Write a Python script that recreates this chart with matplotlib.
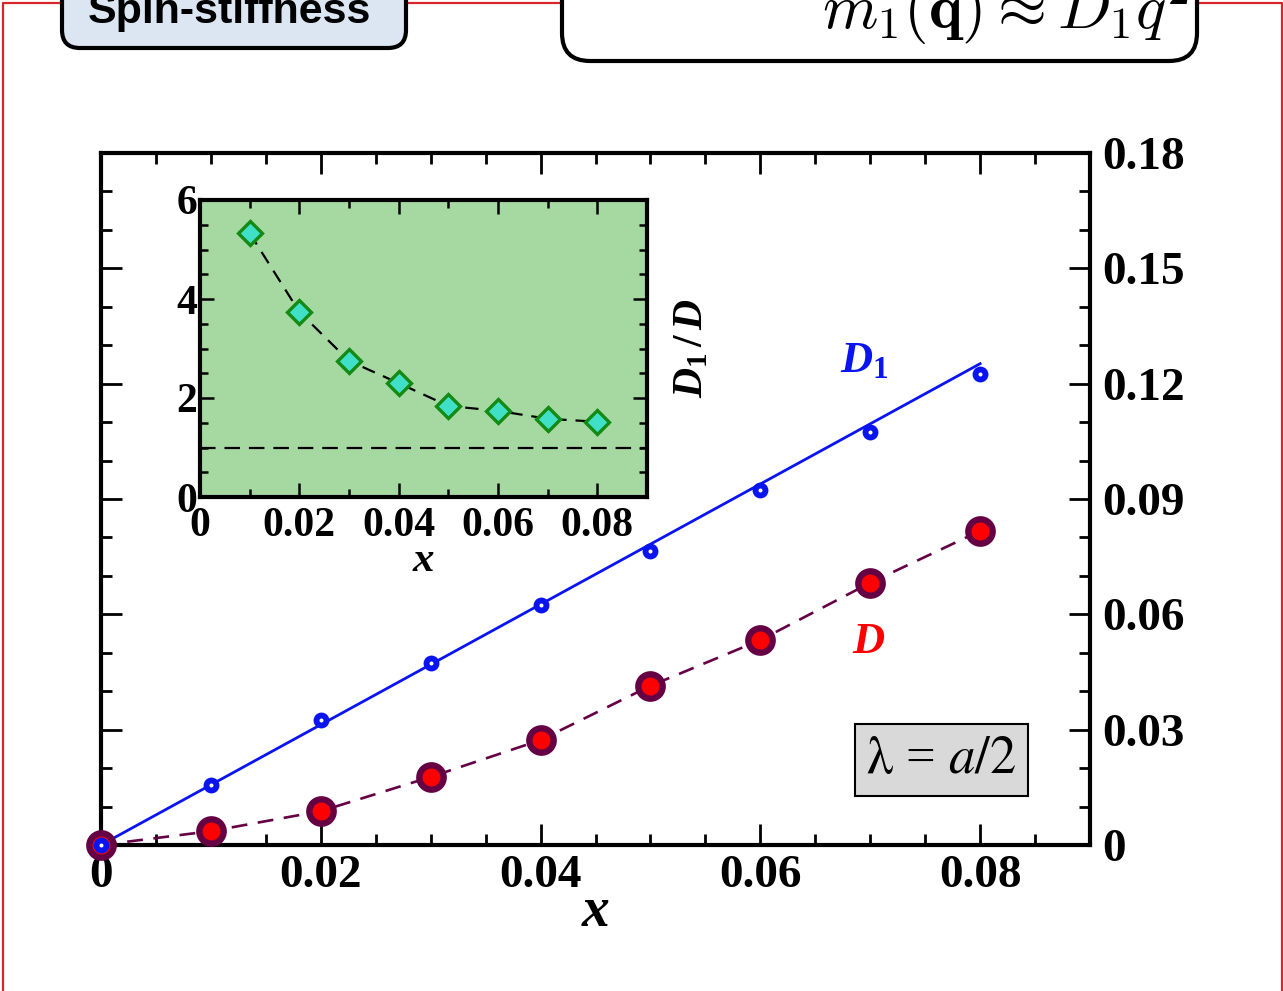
import matplotlib
matplotlib.use('Agg')
import matplotlib.pyplot as plt
from matplotlib.patches import FancyBboxPatch
from matplotlib.ticker import MultipleLocator
import numpy as np

plt.rcParams['font.family'] = ['Liberation Serif', 'DejaVu Serif']
plt.rcParams['mathtext.fontset'] = 'custom'
plt.rcParams['mathtext.it'] = 'Liberation Serif:italic:bold'
plt.rcParams['mathtext.rm'] = 'Liberation Serif:bold'
plt.rcParams['mathtext.bf'] = 'Liberation Serif:bold'

# main panel data
x = [0.0, 0.01, 0.02, 0.03, 0.04, 0.05, 0.06, 0.07, 0.08]
D1 = [0.0, 0.0156, 0.0325, 0.0473, 0.0624, 0.0765, 0.0923, 0.1074, 0.1225]
D = [0.0, 0.0036, 0.0088, 0.0177, 0.0273, 0.0414, 0.0533, 0.0682, 0.0817]
fit_x = [0.0, 0.08]
fit_D1 = [0.0, 0.1252]

# inset data
xi = [0.01, 0.02, 0.03, 0.04, 0.05, 0.06, 0.07, 0.08]
ratio = [5.33, 3.74, 2.75, 2.30, 1.84, 1.74, 1.58, 1.52]

W, H = 1283, 991
fig = plt.figure(figsize=(W/100, H/100), dpi=100)

# slide decorations in pixel coords
bg = fig.add_axes([0, 0, 1, 1], zorder=0)
bg.set_xlim(0, W)
bg.set_ylim(H, 0)
bg.axis('off')
red = '#d8262b'
bg.plot([2.5, 2.5, W - 1.5, W - 1.5], [H + 5, 3, 3, H + 5], color=red, lw=1.6, zorder=1)
bg.add_patch(FancyBboxPatch((62, -40), 344, 88, boxstyle='round,pad=0,rounding_size=18',
                            fc='#dce6f2', ec='black', lw=3, zorder=2))
bg.text(88, 23, 'Spin-stiffness', family='Liberation Sans', weight='bold', fontsize=31,
        va='baseline', ha='left', zorder=3)
bg.add_patch(FancyBboxPatch((562, -40), 635, 101, boxstyle='round,pad=0,rounding_size=28',
                            fc='white', ec='black', lw=3, zorder=2))
bg.text(822, 28, r'$m_1(\mathbf{q}) \approx D_1 q^2$', math_fontfamily='cm', fontsize=45.5,
        va='baseline', ha='left', zorder=3)

# main axes
ax = fig.add_axes([101/W, 1 - 845/H, 989/W, 692/H], zorder=2)
ax.plot(fit_x, fit_D1, color='#0a14f0', lw=2.0, zorder=3)
ax.plot(x, D, color='#660044', lw=1.9, dashes=(6, 4), zorder=3)
ax.plot(x, D, 'o', ms=17.5, mfc='#ff0000', mec='#660044', mew=4.6, zorder=4, clip_on=False)
ax.plot(x, D1, 'o', ms=7.2, mfc='white', mec='#0a14f0', mew=4.2, zorder=5, clip_on=False)
ax.set_xlim(0, 0.09)
ax.set_ylim(0, 0.18)
ax.xaxis.set_major_locator(MultipleLocator(0.02))
ax.xaxis.set_minor_locator(MultipleLocator(0.005))
ax.yaxis.set_major_locator(MultipleLocator(0.03))
ax.yaxis.set_minor_locator(MultipleLocator(0.01))
ax.set_xticks([0, 0.02, 0.04, 0.06, 0.08])
ax.set_xticklabels(['0', '0.02', '0.04', '0.06', '0.08'])
ax.set_yticks([0, 0.03, 0.06, 0.09, 0.12, 0.15, 0.18])
ax.set_yticklabels(['0', '0.03', '0.06', '0.09', '0.12', '0.15', '0.18'])
ax.tick_params(which='both', direction='in', top=True, bottom=True, left=True, right=True,
               labelleft=False, labelright=True, width=2)
ax.tick_params(which='major', length=15, labelsize=34, pad=7)
ax.tick_params(axis='y', which='major', pad=9)
ax.tick_params(which='minor', length=8)
for lab in ax.get_xticklabels() + ax.get_yticklabels():
    lab.set_fontweight('bold')
for s in ax.spines.values():
    s.set_linewidth(3)
ax.set_xlabel('x', fontsize=40, fontweight='bold', fontstyle='italic', labelpad=-8)

ax.text(0.0695, 0.126, r'$D_{\mathit{1}}$', color='#0a14f0', fontsize=32, ha='center', va='center')
ax.text(0.0699, 0.0528, r'$D$', color='#ff0000', fontsize=32, ha='center', va='center')
ax.text(0.0765, 0.0221, r'$\mathrm{\lambda}$ = $\mathit{a/2}$', math_fontfamily='stix',
        fontsize=38, ha='center', va='center',
        bbox=dict(boxstyle='square,pad=0.22', fc='#d9d9d9', ec='black', lw=1.5))

# inset
ins = fig.add_axes([200/W, 1 - 497/H, 447/W, 297/H], zorder=3)
ins.set_facecolor('#a6d9a1')
ins.axhline(1.0, color='black', lw=1.6, dashes=(7, 4), zorder=2)
ins.plot(xi, ratio, color='black', lw=1.6, dashes=(6, 4), zorder=3)
ins.plot(xi, ratio, 'D', ms=12.5, mfc='#40e0c8', mec='#138a13', mew=2.4, zorder=4)
ins.set_xlim(0, 0.09)
ins.set_ylim(0, 6)
ins.set_xticks([0, 0.02, 0.04, 0.06, 0.08])
ins.set_xticklabels(['0', '0.02', '0.04', '0.06', '0.08'])
ins.xaxis.set_minor_locator(MultipleLocator(0.01))
ins.set_yticks([0, 2, 4, 6])
ins.set_yticklabels(['0', '2', '4', '6'])
ins.yaxis.set_minor_locator(MultipleLocator(0.5))
ins.tick_params(which='both', direction='in', top=True, right=True, width=1.8)
ins.tick_params(which='major', length=10, labelsize=30, pad=2)
ins.tick_params(axis='x', which='major', pad=7)
ins.tick_params(which='minor', length=6)
for lab in ins.get_xticklabels() + ins.get_yticklabels():
    lab.set_fontweight('bold')
for s in ins.spines.values():
    s.set_linewidth(3)
ins.set_xlabel('x', fontsize=31, fontweight='bold', fontstyle='italic', labelpad=-2)
ins.text(1.1, 0.5, r'$D_{\mathit{1}}\,/\,D$', transform=ins.transAxes, rotation=90,
         fontsize=30, ha='center', va='center')

fig.savefig('out.png', dpi=100)
